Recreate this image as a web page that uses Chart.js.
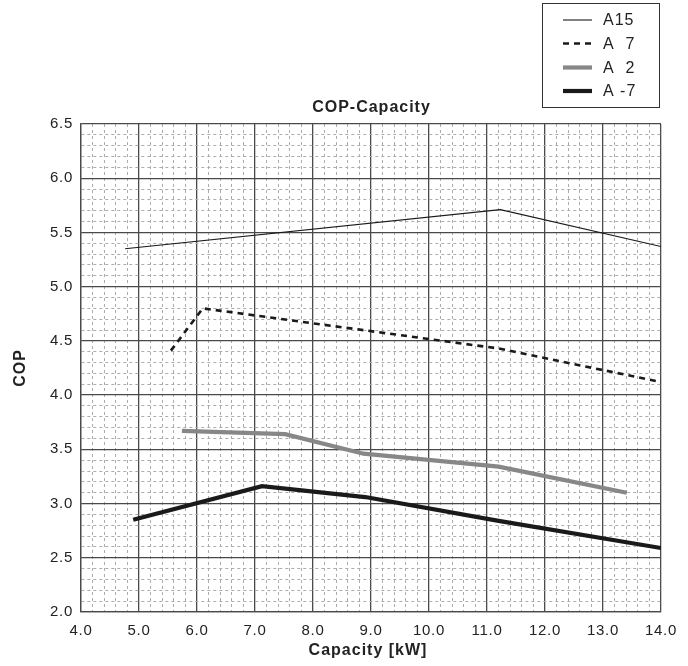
<!DOCTYPE html>
<html>
<head>
<meta charset="utf-8">
<script src="https://cdn.jsdelivr.net/npm/chart.js@4.4.1/dist/chart.umd.min.js"></script>
<style>
  html, body { margin: 0; padding: 0; background: #ffffff; }
  #wrap { width: 688px; height: 666px; position: relative; }
</style>
</head>
<body>
<div id="wrap"><canvas id="c" width="688" height="666"></canvas></div>
<script>
// ---- Data ----
const chartTitle = "COP-Capacity";
const xAxisTitle = "Capacity [kW]";
const yAxisTitle = "COP";
const seriesLabels = ["A15", "A  7", "A  2", "A -7"];

const a15X = [4.76, 11.23, 14.0];
const a15Y = [5.35, 5.71, 5.37];

const a7X = [5.55, 6.10, 11.20, 14.0];
const a7Y = [4.41, 4.80, 4.43, 4.12];

const a2X = [5.74, 7.52, 8.87, 11.20, 13.41];
const a2Y = [3.67, 3.64, 3.46, 3.34, 3.10];

const am7X = [4.90, 7.12, 8.90, 11.20, 14.0];
const am7Y = [2.85, 3.16, 3.06, 2.84, 2.59];

const xMin = 4.0, xMax = 14.0, xMajor = 1.0, xMinor = 0.2;
const yMin = 2.0, yMax = 6.5, yMajor = 0.5, yMinor = 0.1;

// ---- helpers ----
const pts = (xs, ys) => xs.map((x, i) => ({ x: x, y: ys[i] }));
const isMajor = (v, step) => Math.abs(v / step - Math.round(v / step)) < 1e-6;
const FONT = "'Liberation Sans', Arial, Helvetica, sans-serif";

const styles = [
  { color: "#1a1a1a", width: 1.1, dash: [] },
  { color: "#1a1a1a", width: 2.6, dash: [6, 5] },
  { color: "#878787", width: 4.2, dash: [] },
  { color: "#1a1a1a", width: 4.2, dash: [] }
];
const seriesData = [pts(a15X, a15Y), pts(a7X, a7Y), pts(a2X, a2Y), pts(am7X, am7Y)];

const datasets = seriesData.map((d, i) => ({
  label: seriesLabels[i],
  data: d,
  showLine: true,
  borderColor: styles[i].color,
  borderWidth: styles[i].width,
  borderDash: styles[i].dash,
  pointRadius: 0,
  pointHoverRadius: 0,
  tension: 0,
  fill: false
}));

const setSpacing = (ctx, v) => { if ('letterSpacing' in ctx) ctx.letterSpacing = v; };

// custom plugin: letter spacing, titles and boxed legend
const decor = {
  id: "decor",
  beforeUpdate(chart) { setSpacing(chart.ctx, "0.7px"); },
  beforeLayout(chart) { setSpacing(chart.ctx, "0.7px"); },
  beforeDraw(chart) { setSpacing(chart.ctx, "0.7px"); },
  afterDraw(chart) {
    const ctx = chart.ctx;
    const area = chart.chartArea;
    ctx.save();
    setSpacing(ctx, "1px");
    ctx.fillStyle = "#222";
    // chart title
    ctx.font = "bold 16px " + FONT;
    ctx.textAlign = "center";
    ctx.textBaseline = "middle";
    ctx.fillText(chartTitle, (area.left + area.right) / 2 + 0.5, 108);
    // x axis title
    ctx.fillText(xAxisTitle, (area.left + area.right) / 2 - 3, 651);
    // y axis title
    ctx.save();
    ctx.translate(21, (area.top + area.bottom) / 2);
    ctx.rotate(-Math.PI / 2);
    ctx.fillText(yAxisTitle, 0, 0);
    ctx.restore();

    // legend box
    const bx = 542.5, by = 3.5, bw = 117, bh = 104;
    ctx.strokeStyle = "#333";
    ctx.lineWidth = 1;
    ctx.setLineDash([]);
    ctx.strokeRect(bx, by, bw, bh);
    const rows = [20, 43.5, 67.5, 91];
    ctx.font = "16px " + FONT;
    ctx.textAlign = "left";
    ctx.textBaseline = "middle";
    chart.data.datasets.forEach((ds, i) => {
      const y = rows[i];
      ctx.beginPath();
      ctx.strokeStyle = ds.borderColor;
      ctx.lineWidth = ds.borderWidth;
      ctx.setLineDash(ds.borderDash || []);
      ctx.moveTo(563, y);
      ctx.lineTo(592, y);
      ctx.stroke();
      ctx.setLineDash([]);
      ctx.fillStyle = "#222";
      ctx.fillText(ds.label, 603, y + 1);
    });
    ctx.restore();
  }
};

new Chart(document.getElementById("c"), {
  type: "scatter",
  data: { datasets: datasets },
  options: {
    responsive: false,
    animation: false,
    devicePixelRatio: 1,
    layout: { padding: { top: 124, right: 27, left: 0, bottom: 0 } },
    plugins: {
      legend: { display: false },
      title: { display: false },
      tooltip: { enabled: false }
    },
    scales: {
      x: {
        type: "linear",
        min: xMin, max: xMax,
        afterFit(scale) { scale.height = 54; },
        ticks: {
          stepSize: xMinor,
          maxTicksLimit: 200,
          autoSkip: false,
          maxRotation: 0,
          padding: 10,
          color: "#222",
          font: { family: FONT, size: 15 },
          callback: (v) => isMajor(v, xMajor) ? Number(v).toFixed(1) : ""
        },
        grid: {
          drawTicks: false,
          color: (c) => (c.tick && isMajor(c.tick.value, xMajor)) ? "#4a4a4a" : "#acacac",
          lineWidth: (c) => (c.tick && isMajor(c.tick.value, xMajor)) ? 1.3 : 1
        },
        border: {
          display: true,
          color: "#4a4a4a",
          width: 1.3,
          dash: (c) => (c.tick && !isMajor(c.tick.value, xMajor)) ? [3, 3] : []
        }
      },
      y: {
        type: "linear",
        min: yMin, max: yMax,
        afterFit(scale) { scale.width = 81; },
        ticks: {
          stepSize: yMinor,
          maxTicksLimit: 200,
          autoSkip: false,
          padding: 8,
          color: "#222",
          font: { family: FONT, size: 15 },
          callback: (v) => isMajor(v, yMajor) ? Number(v).toFixed(1) : ""
        },
        grid: {
          drawTicks: false,
          color: (c) => (c.tick && isMajor(c.tick.value, yMajor)) ? "#4a4a4a" : "#acacac",
          lineWidth: (c) => (c.tick && isMajor(c.tick.value, yMajor)) ? 1.3 : 1
        },
        border: {
          display: true,
          color: "#4a4a4a",
          width: 1.3,
          dash: (c) => (c.tick && !isMajor(c.tick.value, yMajor)) ? [3, 3] : []
        }
      }
    }
  },
  plugins: [decor]
});
</script>
</body>
</html>
